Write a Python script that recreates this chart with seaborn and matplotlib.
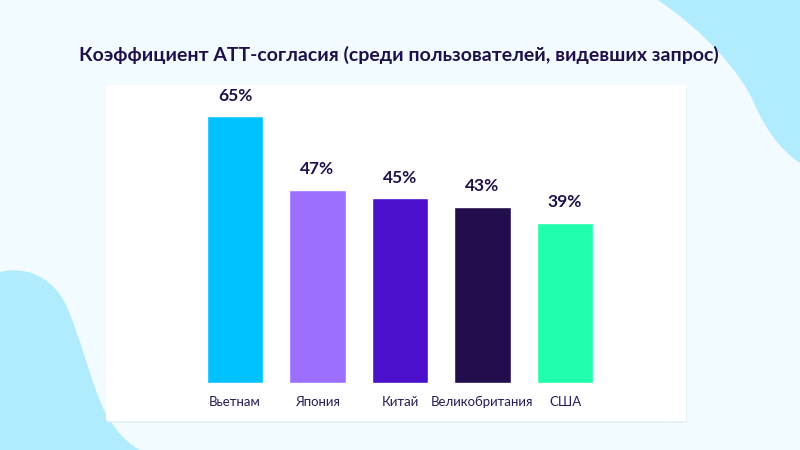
import matplotlib
matplotlib.use("Agg")
import matplotlib.pyplot as plt
from matplotlib.path import Path
from matplotlib.patches import PathPatch, FancyBboxPatch
import pandas as pd
import seaborn as sns

# data
countries = ["Вьетнам", "Япония", "Китай", "Великобритания", "США"]
rates = [65, 47, 45, 43, 39]
bar_colors = ["#00c2ff", "#9c6fff", "#4a10cc", "#220e4c", "#1fffae"]
title = "Коэффициент ATT-согласия (среди пользователей, видевших запрос)"

df = pd.DataFrame({"country": countries, "rate": rates})

sns.set_style("white")
plt.rcParams["font.family"] = ["Lato", "DejaVu Sans"]

bg_col = "#f2fbff"
blob_col = "#b0ecfd"
text_col = "#20104a"

fig = plt.figure(figsize=(8, 4.5), dpi=100)
fig.patch.set_facecolor(bg_col)

# background decoration in pixel coords
bg = fig.add_axes([0, 0, 1, 1])
bg.set_xlim(0, 800)
bg.set_ylim(450, 0)
bg.axis("off")

C, L, M = Path.CURVE4, Path.LINETO, Path.MOVETO
right_blob = Path(
    [(658, 0), (702, 30), (740, 70), (755, 105),
     (765, 128), (780, 150), (800, 163), (800, 0), (658, 0)],
    [M, C, C, C, C, C, C, L, L])
left_blob = Path(
    [(0, 272), (25, 266), (52, 276), (66, 305),
     (80, 335), (90, 380), (104, 410), (115, 430), (125, 442), (140, 450),
     (0, 450), (0, 272)],
    [M, C, C, C, C, C, C, C, C, C, L, L])
bg.add_patch(PathPatch(right_blob, fc=blob_col, ec="none"))
bg.add_patch(PathPatch(left_blob, fc=blob_col, ec="none"))

# white panel with faint shadow
bg.add_patch(FancyBboxPatch((107, 87), 580, 336, boxstyle="round,pad=0,rounding_size=2",
                            fc="#e4eff5", ec="none", alpha=0.8))
bg.add_patch(FancyBboxPatch((106, 85), 580, 336, boxstyle="round,pad=0,rounding_size=2",
                            fc="white", ec="none"))

bg.text(399, 55, title, ha="center", va="center", fontsize=14,
        fontweight="bold", color=text_col)

# bar axes: x from 193.75 to 606.25 px, y from 383 up to 100 px
ax = fig.add_axes([193.75 / 800, 1 - 383 / 450, 412.5 / 800, 283 / 450])
ax.patch.set_alpha(0)
sns.barplot(data=df, x="country", y="rate", hue="country", palette=bar_colors,
            legend=False, width=0.68, saturation=1, ax=ax)
ax.set_ylim(0, 69)
ax.set_xlim(-0.5, 4.5)
for i, v in enumerate(rates):
    ax.annotate(f"{v}%", (i, v), xytext=(0, 15), textcoords="offset points",
                ha="center", va="center", fontsize=12.5, fontweight="bold",
                color=text_col)
ax.set_xlabel("")
ax.set_ylabel("")
ax.set_yticks([])
ax.tick_params(axis="x", length=0, pad=9, labelsize=9.5, labelcolor="#2a1a55")
sns.despine(ax=ax, left=True, bottom=True)

fig.savefig("out.png", dpi=100, facecolor=fig.get_facecolor())
